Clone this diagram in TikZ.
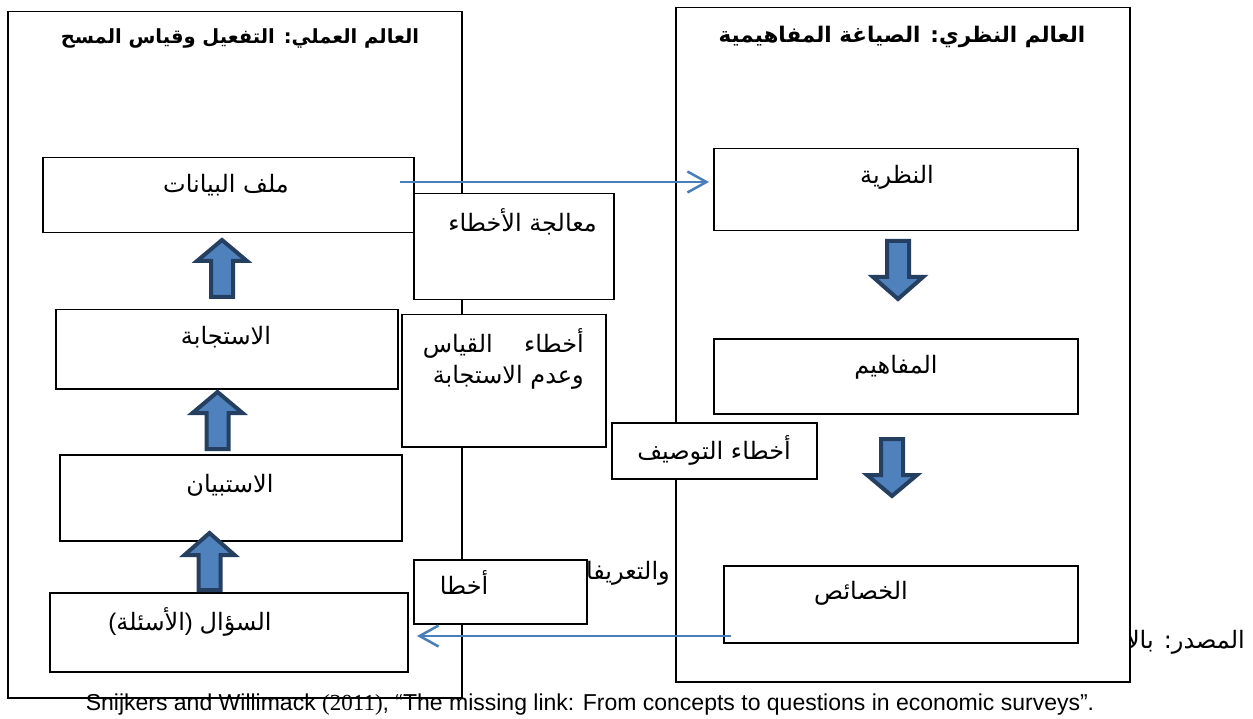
\documentclass[tikz,border=0pt]{standalone}
\usepackage{fontspec}
\setmainfont{Liberation Sans}
\newfontfamily\arabicfont[Script=Arabic]{DejaVu Sans}
\newfontfamily\numserif{Liberation Serif}
\TeXXeTstate=1
\usetikzlibrary{arrows.meta}
\definecolor{arrowfill}{HTML}{4F81BD}
\definecolor{arrowline}{HTML}{243F60}
\definecolor{linkblue}{HTML}{4A7EBB}
\newcommand\artext[1]{{\arabicfont\beginR #1\endR}}
\newcommand\blkup[4]{% center x, tip y, head base y, tail y
  \filldraw[blockarr] (#1-11,#4-2) -- (#1-11,#3-2) -- (#1-25,#3-2) -- (#1,#2+3)
     -- (#1+25,#3-2) -- (#1+11,#3-2) -- (#1+11,#4-2) -- cycle;}
\newcommand\blkdown[4]{% center x, tail y, head base y, tip y
  \filldraw[blockarr] (#1-11,#2+2) -- (#1-11,#3+2) -- (#1-25,#3+2) -- (#1,#4-3)
     -- (#1+25,#3+2) -- (#1+11,#3+2) -- (#1+11,#2+2) -- cycle;}
\tikzset{
  box/.style={draw=black, line width=1.5pt, fill=white, inner sep=0pt, anchor=north west},
  lbl/.style={inner sep=0pt, font=\fontsize{24}{28}\selectfont},
  ttl/.style={inner sep=0pt, font=\fontsize{20.5}{24}\selectfont\bfseries},
  blockarr/.style={draw=arrowline, fill=arrowfill, line width=4pt, line join=miter},
  link/.style={draw=linkblue, line width=2.5pt, -{Straight Barb[length=19pt,width=21pt,line width=2.5pt]}},
}
\begin{document}
\begin{tikzpicture}[x=1pt,y=-1pt]
\fill[white] (0,0) rectangle (1253,719);
\useasboundingbox (0,0) rectangle (1253,719);
% text hidden partly behind boxes
\node[lbl, anchor=east] (src) at (1245,642) {\artext{المصدر: بالاعتماد على}};
\node[lbl, anchor=east] (ovf) at (670,573) {\artext{والتعريفات}};
% outer boxes
\node[box, minimum width=454pt, minimum height=686pt] (outerL) at (7,11) {};
\node[box, minimum width=454pt, minimum height=674pt] (outerR) at (675,7) {};
\node[ttl, font=\fontsize{19.5}{23}\selectfont\bfseries] (titleL) at (240,38) {\artext{العالم العملي: التفعيل وقياس المسح}};
\node[ttl, font=\fontsize{21.5}{25}\selectfont\bfseries] (titleR) at (902,37) {\artext{العالم النظري: الصياغة المفاهيمية}};
% left column
\node[box, minimum width=371pt, minimum height=75pt] (data) at (42,157) {};
\node[lbl] (dataT) at (226,185) {\artext{ملف البيانات}};
\node[box, minimum width=342pt, minimum height=79pt] (resp) at (55,309) {};
\node[lbl] (respT) at (226,337) {\artext{الاستجابة}};
\node[box, minimum width=342pt, minimum height=86pt] (quest) at (59,454) {};
\node[lbl] (questT) at (230,485) {\artext{الاستبيان}};
\node[box, minimum width=358pt, minimum height=79pt] (qs) at (49,592) {};
\node[lbl] (qsT) at (190,622) {(\artext{الأسئلة}) \artext{السؤال}};
% right column
\node[box, minimum width=364pt, minimum height=82pt] (theory) at (713,148) {};
\node[lbl] (theoryT) at (897,177) {\artext{النظرية}};
\node[box, minimum width=364pt, minimum height=75pt] (concepts) at (713,338) {};
\node[lbl] (conceptsT) at (896,367) {\artext{المفاهيم}};
\node[box, minimum width=354pt, minimum height=77pt] (attr) at (723,565) {};
\node[lbl] (attrT) at (861,593) {\artext{الخصائص}};
% error boxes
\node[box, minimum width=200pt, minimum height=106pt] (err1) at (413,193) {};
\node[lbl, anchor=east] (err1T) at (597,222) {\artext{معالجة الأخطاء}};
\node[box, minimum width=204pt, minimum height=132pt] (err2) at (401,314) {};
\node[lbl, anchor=east] (err2a) at (584,343) {\hbox to 161pt{\arabicfont\beginR أخطاء\hfill القياس\endR}};
\node[lbl, anchor=east] (err2b) at (584,377) {\artext{وعدم الاستجابة}};
\node[box, minimum width=205pt, minimum height=56pt] (err3) at (611,422) {};
\node[lbl] (err3T) at (714,450) {\artext{أخطاء التوصيف}};
\node[box, minimum width=173pt, minimum height=64pt] (err4) at (413,559) {};
\node[lbl] (err4T) at (464,583) {\artext{أخطا}};
% block arrows
\blkup{222}{237}{263}{299}
\blkup{217.5}{389}{415}{451}
\blkup{209.5}{530}{557}{592}
\blkdown{898}{239}{275}{302}
\blkdown{892}{437}{473}{499}
% links
\coordinate (l1s) at (400,182);
\coordinate (l1e) at (709,182);
\coordinate (l2s) at (731,636);
\coordinate (l2e) at (417,636);
\draw[link] (l1s) -- (l1e);
\draw[link] (l2s) -- (l2e);
% bottom source line
\node[inner sep=0pt, font=\fontsize{23}{26}\selectfont] (cite) at (590,705)
  {Snijkers and Willimack {\numserif(2011)}, “The missing link: From concepts to questions in economic surveys”.};
\end{tikzpicture}
\end{document}
